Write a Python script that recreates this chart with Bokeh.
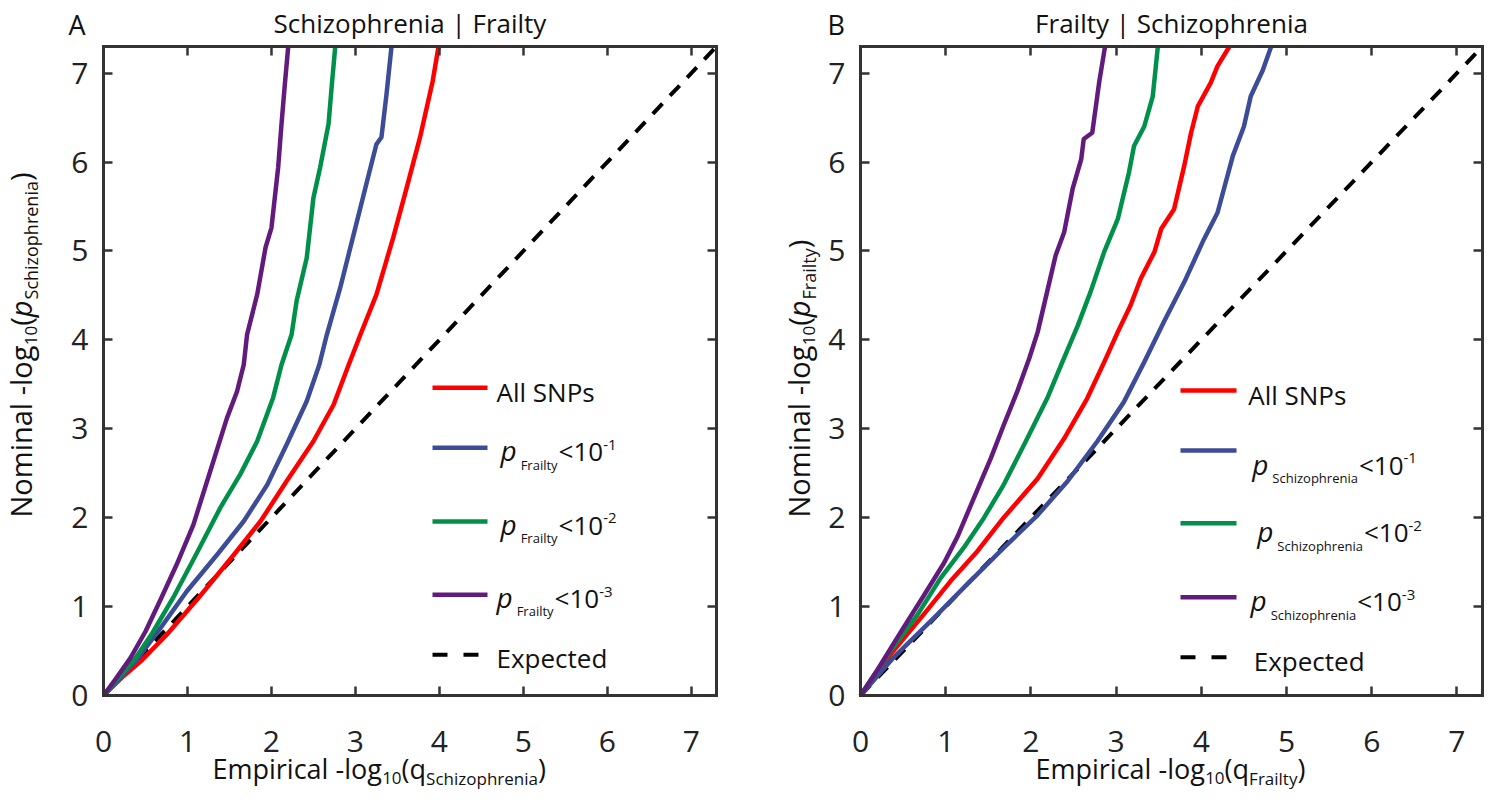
import numpy as np
from bokeh.plotting import figure
from bokeh.models import Label, LinearAxis, FixedTicker, Range1d
from bokeh.layouts import row
from bokeh.embed import file_html
from bokeh.resources import INLINE

# ---------------- data ----------------
ticks = [0, 1, 2, 3, 4, 5, 6, 7]
axis_max = 7.3
expected = [0, 7.3]

# Panel A : Schizophrenia | Frailty   (x = empirical -log10 q, y = nominal -log10 p)
a_all_x = [0, 0.24, 0.46, 0.75, 1.15, 1.55, 1.87, 2.18, 2.50, 2.74, 2.92, 3.06, 3.25, 3.45, 3.61, 3.77, 3.92, 3.99]
a_all_y = [0, 0.22, 0.40, 0.68, 1.12, 1.58, 1.96, 2.41, 2.86, 3.27, 3.72, 4.06, 4.51, 5.15, 5.71, 6.28, 6.91, 7.30]
a_p1_x = [0, 0.22, 0.42, 0.68, 0.99, 1.35, 1.67, 1.95, 2.18, 2.42, 2.57, 2.66, 2.82, 2.98, 3.14, 3.25, 3.31, 3.37, 3.43]
a_p1_y = [0, 0.22, 0.43, 0.76, 1.17, 1.58, 1.96, 2.37, 2.82, 3.31, 3.72, 4.06, 4.59, 5.19, 5.79, 6.20, 6.28, 6.76, 7.30]
a_p2_x = [0, 0.18, 0.38, 0.58, 0.83, 1.11, 1.39, 1.63, 1.83, 2.02, 2.12, 2.24, 2.30, 2.42, 2.50, 2.58, 2.68, 2.72, 2.76]
a_p2_y = [0, 0.20, 0.42, 0.70, 1.10, 1.60, 2.11, 2.49, 2.86, 3.35, 3.72, 4.06, 4.44, 4.92, 5.60, 5.94, 6.43, 6.88, 7.30]
a_p3_x = [0, 0.14, 0.32, 0.50, 0.68, 0.87, 1.07, 1.27, 1.47, 1.59, 1.67, 1.71, 1.83, 1.93, 2.00, 2.08, 2.12, 2.16, 2.20]
a_p3_y = [0, 0.18, 0.42, 0.72, 1.08, 1.47, 1.92, 2.52, 3.12, 3.42, 3.72, 4.06, 4.51, 5.04, 5.26, 5.94, 6.43, 6.88, 7.30]

# Panel B : Frailty | Schizophrenia
b_all_x = [0, 0.35, 0.74, 1.06, 1.37, 1.68, 2.08, 2.39, 2.66, 2.86, 3.02, 3.17, 3.29, 3.45, 3.53, 3.68, 3.80, 3.88, 3.96, 4.11, 4.19, 4.33]
b_all_y = [0, 0.46, 0.91, 1.29, 1.62, 2.00, 2.44, 2.89, 3.34, 3.75, 4.09, 4.39, 4.69, 4.99, 5.25, 5.47, 5.96, 6.33, 6.63, 6.89, 7.08, 7.30]
b_p1_x = [0, 0.39, 0.86, 1.25, 1.68, 2.08, 2.43, 2.78, 3.09, 3.33, 3.56, 3.80, 4.03, 4.19, 4.37, 4.50, 4.58, 4.72, 4.82]
b_p1_y = [0, 0.43, 0.87, 1.25, 1.66, 2.03, 2.41, 2.86, 3.30, 3.75, 4.20, 4.65, 5.13, 5.43, 6.07, 6.40, 6.74, 7.03, 7.30]
b_p2_x = [0, 0.35, 0.67, 0.94, 1.21, 1.45, 1.68, 1.92, 2.19, 2.36, 2.55, 2.70, 2.86, 3.02, 3.15, 3.21, 3.33, 3.43, 3.49]
b_p2_y = [0, 0.50, 0.91, 1.32, 1.66, 2.00, 2.37, 2.82, 3.34, 3.73, 4.16, 4.54, 4.99, 5.36, 5.88, 6.18, 6.40, 6.74, 7.30]
b_p3_x = [0, 0.20, 0.47, 0.74, 0.98, 1.14, 1.33, 1.53, 1.68, 1.84, 1.98, 2.08, 2.19, 2.29, 2.39, 2.49, 2.59, 2.62, 2.72, 2.80, 2.87]
b_p3_y = [0, 0.29, 0.71, 1.12, 1.49, 1.79, 2.22, 2.67, 3.04, 3.42, 3.79, 4.09, 4.54, 4.95, 5.21, 5.70, 6.03, 6.26, 6.33, 6.89, 7.30]

all_label = "All SNPs"
expected_label = "Expected"
thresholds = ["-1", "-2", "-3"]

# ---------------- style ----------------
RED, BLUE, GREEN, PURPLE = "#FF0000", "#3D4C97", "#00904A", "#621A7C"
FRAME = "#333333"
TXT = "#111111"
FONT = "Open Sans"
FT, FH = 46, 649      # frame top / height (page px)
FB = FT + FH
CANVAS_H = 799
SHIFT = 0.42          # em correction so that the given y is the visual baseline

W = {' ': .26, '(': .295, ')': .295, '-': .322, '<': .572, '|': .551,
     'A': .635, 'E': .552, 'F': .516, 'N': .74, 'P': .604, 'S': .539,
     'a': .556, 'c': .476, 'e': .561, 'g': .55, 'h': .614, 'i': .253, 'l': .253,
     'm': .93, 'n': .614, 'o': .604, 'p': .613, 'q': .613, 'r': .408, 's': .477,
     't': .353, 'y': .502, 'z': .477}
for d in "0123456789":
    W[d] = .572


def tw(s, size):
    return sum(W.get(c, .55) for c in s) * size


def make_panel(c0, c1, left_px, fw, lines, title, letter, letter_px, sub, ylab_x,
               xlab_start, leg):
    def X(px):
        return (px - left_px) / fw * axis_max

    def Y(py):
        return (FB - py) / FH * axis_max

    p = figure(width=c1 - c0, height=CANVAS_H, x_range=Range1d(X(c0), X(c1)),
               y_range=Range1d(Y(CANVAS_H), Y(0)), output_backend="svg", toolbar_location=None,
               min_border=0, x_axis_type=None, y_axis_type=None)
    p.title.visible = False
    p.xgrid.visible = False
    p.ygrid.visible = False
    p.outline_line_color = None
    p.background_fill_color = "white"
    p.border_fill_color = "white"

    for side, loc in [("left", 0), ("below", 0), ("right", axis_max), ("above", axis_max)]:
        ax = LinearAxis(ticker=FixedTicker(ticks=ticks), fixed_location=loc, bounds=(0, axis_max),
                        axis_line_width=3, axis_line_color=FRAME, axis_line_cap="square",
                        major_tick_in=9, major_tick_out=0, major_tick_line_width=2.5,
                        major_tick_line_color=FRAME, minor_tick_line_color=None,
                        major_label_text_font=FONT, major_label_text_font_size="30px",
                        major_label_text_color="#222222",
                        major_label_standoff=15 if side == "left" else 35)
        if side in ("right", "above"):
            ax.major_label_overrides = {t: "" for t in ticks}
        p.add_layout(ax, side)

    # expected diagonal
    p.line(expected, expected, line_color="black", line_width=4, line_dash="14 11")
    for (xs, ys, c) in lines:
        p.line(xs, ys, line_color=c, line_width=4.5, line_join="round")

    def lab(px, py, text, size, style="normal", angle=0.0, align="left"):
        if angle:
            px = px - SHIFT * size
        else:
            py = py - SHIFT * size
        p.add_layout(Label(x=X(px), y=Y(py), text=text, text_font=FONT,
                           text_font_size=f"{size}px", text_font_style=style,
                           text_color=TXT, text_align=align, text_baseline="alphabetic",
                           angle=angle))

    # title and panel letter
    lab(left_px + fw / 2, 33, title, 26, align="center")
    lab(letter_px, 35, letter, 27)

    # y label (rotated)
    ysub = "Schizophrenia" if letter == "A" else "Frailty"
    ypieces = [("Nominal -log", 29, "normal", 0), ("10", 17, "normal", 6), ("(", 29, "normal", 0),
               ("p", 29, "italic", 0), (ysub, 18, "normal", 6), (")", 29, "normal", 0)]
    cy = 517
    for t, s, st, sh in ypieces:
        lab(ylab_x + sh, cy, t, s, st, angle=np.pi / 2)
        cy -= tw(t, s)

    # x label
    xpieces = [("Empirical -log", 27, 0), ("10", 17, 6), ("(q", 27, 0), (ysub, 17, 6), (")", 27, 0)]
    cx = xlab_start
    for t, s, sh in xpieces:
        lab(cx, 779 + sh, t, s)
        cx += tw(t, s)

    # legend
    lx0, lx1, entries = leg
    cols = [RED, BLUE, GREEN, PURPLE]
    for i, (ly, tx, tb) in enumerate(entries):
        if i < 4:
            p.line([X(lx0), X(lx1)], [Y(ly), Y(ly)], line_color=cols[i], line_width=4.5)
        else:
            p.line([X(lx0), X(lx1)], [Y(ly), Y(ly)], line_color="black", line_width=4,
                   line_dash="15 16")
        if i == 0:
            lab(tx, tb, all_label, 26)
        elif i == 4:
            lab(tx, tb, expected_label, 26)
        else:
            cx = tx
            lab(cx, tb, "p", 28, "italic")
            cx += tw("p", 28) + 3
            lab(cx, tb + 8, sub, 13)
            cx += tw(sub, 13) + 1
            lab(cx, tb, "<10", 26)
            cx += tw("<10", 26)
            lab(cx, tb - 11, thresholds[i - 1], 15)
    return p


pA = make_panel(0, 736, 103, 613,
                [(a_all_x, a_all_y, RED), (a_p1_x, a_p1_y, BLUE), (a_p2_x, a_p2_y, GREEN),
                 (a_p3_x, a_p3_y, PURPLE)],
                "Schizophrenia | Frailty", "A", 68, "Frailty", 32, 212,
                (432, 487, [(387.3, 496, 402.7), (447.3, 500, 461.7), (521, 500, 535),
                            (594.3, 496, 608.3), (654.3, 496, 668.3)]))

pB = make_panel(736, 1490, 860, 622,
                [(b_all_x, b_all_y, RED), (b_p1_x, b_p1_y, BLUE), (b_p2_x, b_p2_y, GREEN),
                 (b_p3_x, b_p3_y, PURPLE)],
                "Frailty | Schizophrenia", "B", 827, "Schizophrenia", 810, 1035,
                (1180, 1236, [(390, 1247.7, 405), (450, 1251.7, 475), (522.7, 1256.7, 542.7),
                              (596.7, 1250, 611.7), (656.7, 1253.3, 671.7)]))

layout = row(pA, pB)
open("out.html", "w").write(file_html(layout, INLINE))
